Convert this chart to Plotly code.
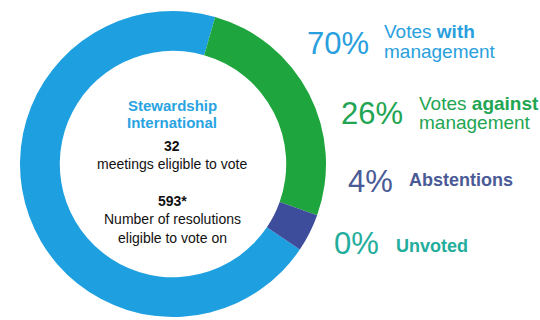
import plotly.graph_objects as go

# Voting record breakdown
labels = ["Votes with management", "Votes against management", "Abstentions", "Unvoted"]
values = [70, 26, 4, 0]
meetings = 32
resolutions = 593

ring_colors = ["#1d9fe0", "#1fa53d", "#3e4c9c", "#1fae9c"]
text_colors = ["#2a9fdd", "#22a552", "#4a5a96", "#22ad9c"]
label_lines = [
    ["Votes <b>with</b>", "management"],
    ["Votes <b>against</b>", "management"],
    ["<b>Abstentions</b>"],
    ["<b>Unvoted</b>"],
]

W, H = 540, 320
FONT = "Liberation Sans, Arial, sans-serif"

fig = go.Figure(go.Pie(
    labels=labels,
    values=values,
    sort=False,
    direction="clockwise",
    rotation=124,
    hole=0.74,
    marker=dict(colors=ring_colors, line=dict(width=0)),
    textinfo="none",
    hoverinfo="skip",
    showlegend=False,
    domain=dict(x=[20 / W, 326 / W], y=[3 / H, 309 / H]),
))


def px_note(text, x, y, size, color, xanchor="left"):
    fig.add_annotation(
        text=text, x=x / W, y=1 - y / H, xref="paper", yref="paper",
        xanchor=xanchor, yanchor="middle", showarrow=False,
        font=dict(family=FONT, size=size, color=color),
    )


# Right-hand key: percentage and description for each slice
pct_pos = [(305, 43), (339, 114), (346, 181), (332, 243)]
lab_x = [382, 417, 407, 394]
lab_y = [[31, 51], [104, 122], [180], [246]]
lab_size = [19, 19, 18, 18]
for i, v in enumerate(values):
    px_note(f"{v}%", pct_pos[i][0], pct_pos[i][1], 31, text_colors[i])
    for line, ly in zip(label_lines[i], lab_y[i]):
        px_note(line, lab_x[i], ly, lab_size[i], text_colors[i])

# Centre of the ring
cx = 172
px_note("<b>Stewardship</b>", cx, 105, 15, "#2aa3e2", "center")
px_note("<b>International</b>", cx, 122, 15, "#2aa3e2", "center")
px_note(f"<b>{meetings}</b>", cx, 146, 14, "#111111", "center")
px_note("meetings eligible to vote", cx, 164, 14, "#111111", "center")
px_note(f"<b>{resolutions}*</b>", cx, 201, 14, "#111111", "center")
px_note("Number of resolutions", cx, 219, 14, "#111111", "center")
px_note("eligible to vote on", cx, 238, 14, "#111111", "center")

fig.update_layout(
    width=W, height=H,
    margin=dict(l=0, r=0, t=0, b=0),
    paper_bgcolor="white",
    plot_bgcolor="white",
)

fig.write_html("out.html")
